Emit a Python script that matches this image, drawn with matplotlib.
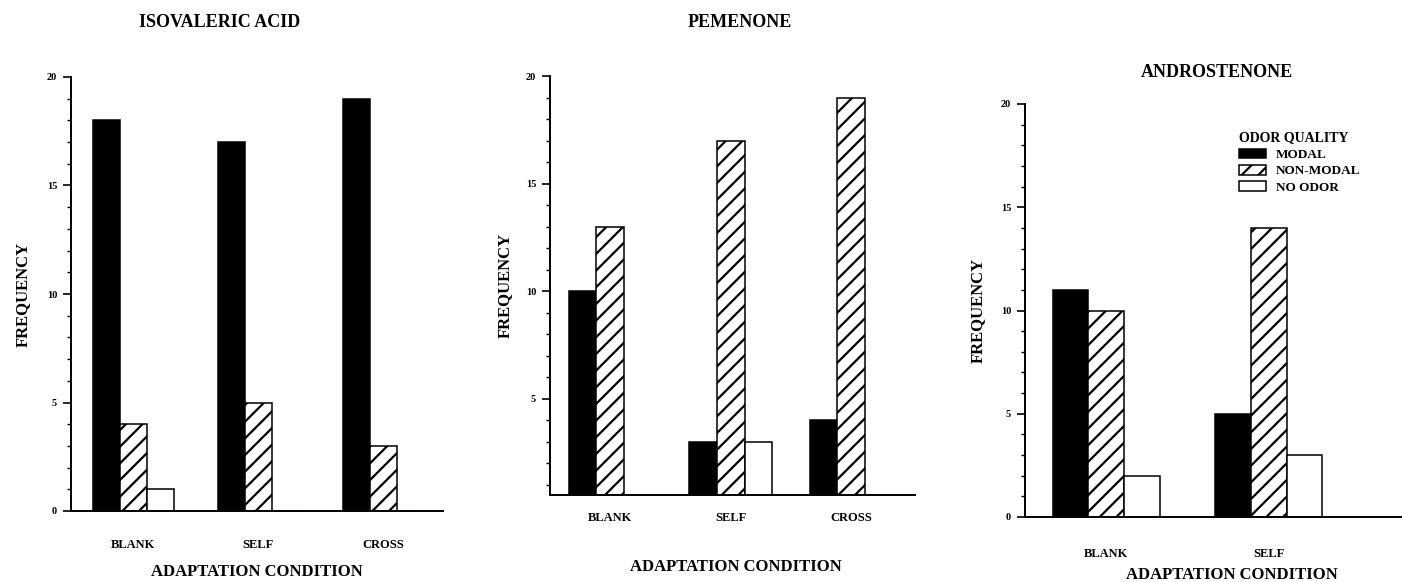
import numpy as np
import matplotlib
matplotlib.use('Agg')
import matplotlib.pyplot as plt
from matplotlib.ticker import MultipleLocator

plt.rcParams['font.family'] = ['Liberation Serif', 'DejaVu Serif']
plt.rcParams['font.weight'] = 'bold'
plt.rcParams['hatch.linewidth'] = 1.6

# data
conds3 = ['BLANK', 'SELF', 'CROSS']
conds2 = ['BLANK', 'SELF']
series = ['MODAL', 'NON-MODAL', 'NO ODOR']

iso_modal = [18, 17, 19]
iso_nonmodal = [4, 5, 3]
iso_noodor = [1, 0, 0]

pem_modal = [10, 3, 4]
pem_nonmodal = [13, 17, 19]
pem_noodor = [0, 3, 0]

andro_modal = [11, 5]
andro_nonmodal = [10, 14]
andro_noodor = [2, 3]

W, H = 1402, 582
fig = plt.figure(figsize=(W / 100, H / 100), dpi=100)


def px_axes(left, right, top, bottom):
    return fig.add_axes([left / W, 1 - bottom / H, (right - left) / W, (bottom - top) / H])


def panel(ax, cats, vals, width, ylim, xlim, title, title_xy, xlab_xy, ylab_xy, xpad):
    x = np.arange(len(cats))
    styles = [dict(color='black', edgecolor='black'),
              dict(color='white', edgecolor='black', hatch='//'),
              dict(color='white', edgecolor='black')]
    for i, (v, st) in enumerate(zip(vals, styles)):
        ax.bar(x + (i - 1) * width, v, width, linewidth=1.1, label=series[i], **st)
    ax.set_xlim(*xlim)
    ax.set_ylim(*ylim)
    for s in ['top', 'right']:
        ax.spines[s].set_visible(False)
    for s in ['left', 'bottom']:
        ax.spines[s].set_linewidth(1.4)
    ax.yaxis.set_major_locator(MultipleLocator(5))
    ax.yaxis.set_minor_locator(MultipleLocator(1))
    ax.tick_params(axis='y', which='major', length=6, width=1.2, labelsize=7.5, pad=4)
    ax.tick_params(axis='y', which='minor', length=3, width=1.0)
    ax.set_xticks(x)
    ax.set_xticklabels(cats)
    ax.tick_params(axis='x', length=0, labelsize=9, pad=xpad)
    ax.set_title(title, fontsize=13, fontweight='bold', x=title_xy[0], y=title_xy[1],
                 va='center', pad=0)
    ax.set_xlabel('ADAPTATION CONDITION', fontsize=12, fontweight='bold', va='center')
    ax.xaxis.set_label_coords(*xlab_xy)
    ax.set_ylabel('FREQUENCY', fontsize=12, fontweight='bold', va='center')
    ax.yaxis.set_label_coords(*ylab_xy)


ax1 = px_axes(71, 443, 77, 511)
panel(ax1, conds3, [iso_modal, iso_nonmodal, iso_noodor], 0.215, (0, 20), (-0.5, 2.48),
      'ISOVALERIC ACID', (0.40, 1.126), (0.5, -0.141), (-0.13, 0.5), 20)

ax2 = px_axes(550, 915, 76, 495)
panel(ax2, conds3, [pem_modal, pem_nonmodal, pem_noodor], 0.23, (0.52, 20), (-0.5, 2.53),
      'PEMENONE', (0.52, 1.128), (0.51, -0.172), (-0.123, 0.5), 12)

ax3 = px_axes(1025, 1402, 104, 517)
panel(ax3, conds2, [andro_modal, andro_nonmodal, andro_noodor], 0.22, (0, 20), (-0.5, 1.82),
      'ANDROSTENONE', (0.51, 1.077), (0.55, -0.141), (-0.125, 0.5), 22)

leg = ax3.legend(title='ODOR QUALITY', loc='upper left',
                 bbox_to_anchor=(1232 / W, 1 - 125 / H), bbox_transform=fig.transFigure,
                 frameon=False, fontsize=9.5, title_fontsize=10, handlelength=2.1,
                 handleheight=0.75, handletextpad=0.7, labelspacing=0.3,
                 borderpad=0.0, alignment='left')
leg.get_title().set_fontweight('bold')
for t in leg.get_texts():
    t.set_fontweight('bold')

fig.savefig('out.png', dpi=100)
